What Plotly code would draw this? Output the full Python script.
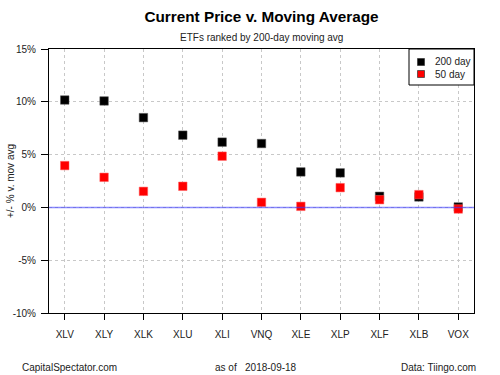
import plotly.graph_objects as go

tickers = ["XLV", "XLY", "XLK", "XLU", "XLI", "VNQ", "XLE", "XLP", "XLF", "XLB", "VOX"]
ma200 = [10.17, 10.08, 8.50, 6.84, 6.18, 6.05, 3.36, 3.27, 1.05, 0.99, 0.04]
ma50 = [3.96, 2.85, 1.52, 2.00, 4.85, 0.48, 0.10, 1.87, 0.73, 1.21, -0.15]
y_ticks = [-10, -5, 0, 5, 10, 15]
y_ticklabels = ["-10%", "-5%", "0%", "5%", "10%", "15%"]
series_names = ["200 day", "50 day"]
series_colors = ["black", "#ff0000"]

FONT = "Liberation Sans, Arial, sans-serif"
L, R, T, B = 49, 474, 49, 313
PW, PH = R - L, B - T

def px_x(x):
    return (x - L) / PW

def px_y(y):
    return (B - y) / PH

fig = go.Figure()
for name, vals, col, edge in [(series_names[0], ma200, series_colors[0], "#555"),
                              (series_names[1], ma50, series_colors[1], "#ff6060")]:
    fig.add_trace(go.Scatter(x=tickers, y=vals, mode="markers", name=name,
                             marker=dict(symbol="square", size=8.5, color=col,
                                         line=dict(width=0.5, color=edge))))

fig.add_shape(type="line", xref="paper", x0=0, x1=1, yref="y", y0=0, y1=0,
              line=dict(color="rgba(60,60,255,0.6)", width=1.5), layer="above")

# manual legend box (R-style)
shapes = [dict(type="rect", xref="paper", yref="paper",
               x0=px_x(409), x1=px_x(474), y0=px_y(85), y1=px_y(49),
               line=dict(color="black", width=1), fillcolor="white", layer="above")]
annos = []
for i, (name, col) in enumerate(zip(series_names, series_colors)):
    cy = 62 + 12 * i
    shapes.append(dict(type="rect", xref="paper", yref="paper",
                       x0=px_x(417.5), x1=px_x(424.5), y0=px_y(cy + 3.5), y1=px_y(cy - 3.5),
                       line=dict(color="#333", width=0.7), fillcolor=col, layer="above"))
    annos.append(dict(text=name, xref="paper", yref="paper", x=px_x(433), y=px_y(cy),
                      xanchor="left", yanchor="middle", showarrow=False,
                      font=dict(size=10, color="#222")))
for s in shapes:
    fig.add_shape(**s)

fig.update_layout(
    width=500, height=375,
    margin=dict(l=L, r=500 - R, t=T, b=375 - B, autoexpand=False),
    paper_bgcolor="white", plot_bgcolor="white",
    font=dict(family=FONT, size=10, color="#222"),
    title=dict(text="<b>Current Price v. Moving Average</b>", x=(L + R) / 2 / 500,
               xanchor="center", yref="container", y=1 - 16.7 / 375, yanchor="middle",
               font=dict(size=15.3, color="black", family=FONT)),
    showlegend=False,
    xaxis=dict(range=[-0.4, 10.4], type="category", showline=True, linecolor="black",
               linewidth=1, mirror=True, ticks="outside", ticklen=6, tickcolor="black",
               showgrid=True, gridcolor="#c8c8c8", griddash="dot", gridwidth=1,
               zeroline=False, ticklabelstandoff=6, automargin=False),
    yaxis=dict(range=[-10, 15], tickvals=y_ticks, ticktext=y_ticklabels,
               showline=True, linecolor="black", linewidth=1, mirror=True,
               ticks="outside", ticklen=7, tickcolor="black",
               showgrid=True, gridcolor="#c8c8c8", griddash="dot", gridwidth=1,
               zeroline=False, ticklabelstandoff=3, automargin=False),
    annotations=annos + [
        dict(text="ETFs ranked by 200-day moving avg", xref="paper", yref="paper",
             x=0.5, y=px_y(37.7), xanchor="center", yanchor="middle",
             showarrow=False, font=dict(size=10, color="#222")),
        dict(text="+/- % v. mov avg", xref="paper", yref="paper", textangle=-90,
             x=px_x(10), y=0.5, xanchor="center", yanchor="middle",
             showarrow=False, font=dict(size=10, color="#222")),
        dict(text="CapitalSpectator.com", xref="paper", yref="paper",
             x=px_x(20), y=px_y(367), xanchor="left", yanchor="middle",
             showarrow=False, font=dict(size=10, color="#222")),
        dict(text="as of   2018-09-18", xref="paper", yref="paper",
             x=px_x(256), y=px_y(367), xanchor="center", yanchor="middle",
             showarrow=False, font=dict(size=10, color="#222")),
        dict(text="Data: Tiingo.com", xref="paper", yref="paper",
             x=px_x(478), y=px_y(367), xanchor="right", yanchor="middle",
             showarrow=False, font=dict(size=10, color="#222")),
    ],
)

fig.write_html("out.html", config={"displayModeBar": False},
               post_script="document.body.style.margin='0';")
